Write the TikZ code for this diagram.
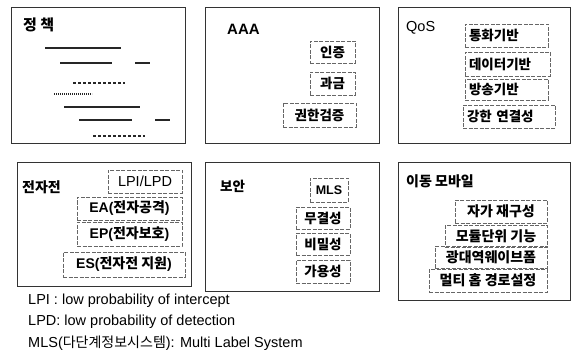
\documentclass[tikz,border=0pt]{standalone}
\usepackage{fontspec}
\setmainfont{Noto Sans CJK KR}
\newfontfamily\lat{Liberation Sans}
\begin{document}
\begin{tikzpicture}[x=1pt,y=-1pt,
  outer/.style={draw=black!80, line width=0.8pt, inner sep=0pt},
  subbox/.style={draw=black!60, line width=0.6pt, dash pattern=on 4pt off 1.5pt, inner sep=0pt, font=\fontsize{13.5}{13.5}\selectfont\bfseries},
  title/.style={anchor=west, inner sep=0pt, font=\fontsize{14}{14}\selectfont\bfseries},
  note/.style={anchor=west, inner sep=0pt, font=\fontsize{14.5}{14.5}\selectfont\lat},
  pline/.style={line width=1.1pt, draw=black!85},
  dline/.style={line width=1.4pt, draw=black!85, dash pattern=on 3pt off 2pt},
  tline/.style={line width=1.2pt, draw=black!85, dash pattern=on 1.2pt off 0.8pt}]
\useasboundingbox (0,0) rectangle (577,355);

% outer boxes
\node[outer, minimum width=174pt, minimum height=136pt] (policy) at (98,75) {};
\node[outer, minimum width=174pt, minimum height=136pt] (aaa) at (292,75) {};
\node[outer, minimum width=172pt, minimum height=136pt] (qos) at (484,75) {};
\node[outer, minimum width=174pt, minimum height=124pt] (ew) at (104,224) {};
\node[outer, minimum width=174pt, minimum height=129pt] (sec) at (292,226.5) {};
\node[outer, minimum width=172pt, minimum height=138pt] (mob) at (484,231) {};

% titles
\node[title, font=\fontsize{15}{15}\selectfont\bfseries] (tpolicy) at (23,25) {정 책};
\node[title, font=\fontsize{15}{15}\selectfont\lat\bfseries] (taaa) at (227,29.5) {AAA};
\node[title, font=\fontsize{14.5}{14.5}\selectfont\lat] (tqos) at (406,27.5) {QoS};
\node[title] (tew) at (22,187.5) {전자전};
\node[title, font=\fontsize{13.5}{13.5}\selectfont\bfseries] (tsec) at (220,186) {보안};
\node[title, font=\fontsize{14}{14}\selectfont\bfseries] (tmob) at (406,181.5) {이동 모바일};

% policy lines
\draw[pline] (45,48) -- (121,48);
\draw[pline] (60,63) -- (112,63);
\draw[pline] (135,63) -- (150,63);
\draw[dline] (73,83) -- (125,83);
\draw[tline] (54,94) -- (92,94);
\draw[pline] (64,107) -- (140,107);
\draw[pline] (79,120) -- (132,120);
\draw[pline] (155,120) -- (170,120);
\draw[dline] (93,136) -- (145,136);

% AAA
\node[subbox, minimum width=45pt, minimum height=22pt] (a1) at (332.5,52) {인증};
\node[subbox, minimum width=45pt, minimum height=23pt] (a2) at (332.5,83.5) {과금};
\node[subbox, minimum width=73pt, minimum height=24pt] (a3) at (319.5,115) {권한검증};

% QoS
\node[subbox, minimum width=83pt, minimum height=23pt, text width=75pt, align=left] (q1) at (506.5,35.5) {통화기반};
\node[subbox, minimum width=85pt, minimum height=24pt, text width=77pt, align=left] (q2) at (507.5,64) {데이터기반};
\node[subbox, minimum width=83pt, minimum height=21pt, text width=75pt, align=left] (q3) at (506.5,89.5) {방송기반};
\node[subbox, minimum width=92pt, minimum height=23pt, text width=84pt, align=left] (q4) at (509,116.5) {강한 연결성};

% EW
\node[subbox, minimum width=74pt, minimum height=23pt, font=\fontsize{14.5}{14.5}\selectfont\lat] (e1) at (145,181.5) {LPI/LPD};
\node[subbox, minimum width=105pt, minimum height=23pt, font=\fontsize{14}{14}\selectfont\bfseries] (e2) at (129.5,208.5) {{\lat EA(}전자공격{\lat )}};
\node[subbox, minimum width=105pt, minimum height=24pt, font=\fontsize{14}{14}\selectfont\bfseries] (e3) at (129.5,234) {{\lat EP(}전자보호{\lat )}};
\node[subbox, minimum width=122pt, minimum height=25pt, font=\fontsize{14}{14}\selectfont\bfseries] (e4) at (124,264.5) {{\lat ES(}전자전 지원{\lat )}};

% Security
\node[subbox, minimum width=38pt, minimum height=24pt, font=\fontsize{12.5}{12.5}\selectfont\lat\bfseries] (s1) at (329,190) {MLS};
\node[subbox, minimum width=54pt, minimum height=22pt] (s2) at (323,218) {무결성};
\node[subbox, minimum width=54pt, minimum height=22pt] (s3) at (323,244) {비밀성};
\node[subbox, minimum width=54pt, minimum height=23pt] (s4) at (323,271.5) {가용성};

% Mobile
\node[subbox, minimum width=92pt, minimum height=23pt, font=\fontsize{14}{14}\selectfont\bfseries] (m1) at (501,211.5) {자가 재구성};
\node[subbox, minimum width=102pt, minimum height=22pt, font=\fontsize{14}{14}\selectfont\bfseries] (m2) at (496,236) {모듈단위 기능};
\node[subbox, minimum width=112pt, minimum height=22pt, font=\fontsize{14}{14}\selectfont\bfseries] (m3) at (491,257) {광대역웨이브폼};
\node[subbox, minimum width=118pt, minimum height=23pt, font=\fontsize{14}{14}\selectfont\bfseries] (m4) at (488,280.5) {멀티 홉 경로설정};

% notes
\node[note] (n1) at (28,301) {LPI : low probability of intercept};
\node[note] (n2) at (28,322) {LPD: low probability of detection};
\node[note] (n3) at (28,343) {MLS({\rmfamily\fontsize{14}{14}\selectfont 다단계정보시스템}): Multi Label System};
\end{tikzpicture}
\end{document}
